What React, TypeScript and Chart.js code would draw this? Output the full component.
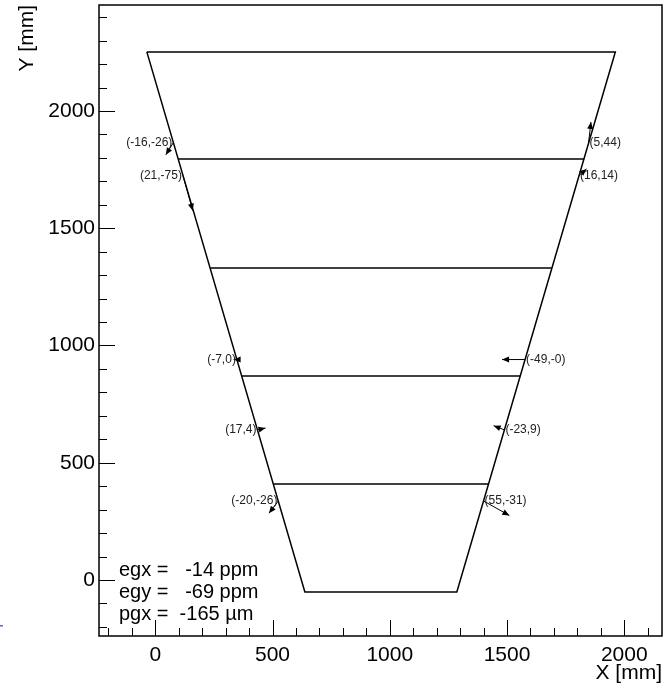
import { useEffect, useRef } from "react";
import { Chart, registerables } from "chart.js";

Chart.register(...registerables);

const FONT = "'Liberation Sans', Arial, Helvetica, sans-serif";

// Plane outline (mm), closed polygon
const outlineX = [-36, 1962, 1286, 638, -36];
const outlineY = [2252, 2252, -51, -51, 2252];

// Horizontal chords across the plane (mm)
const chordY = [1795, 1330, 870, 409];
const chordXLeft = [98, 234, 369, 503];
const chordXRight = [1828, 1691, 1556, 1421];

// Measured displacements at points on the plane edges
const arrowX = [77, 118, 348, 436, 525, 1848, 1807, 1577, 1489, 1400];
const arrowY = [1865, 1725, 940, 640, 337, 1865, 1725, 940, 640, 337];
const arrowDX = [-16, 21, -7, 17, -20, 5, 16, -49, -23, 55];
const arrowDY = [-26, -75, 0, 4, -26, 44, 14, -0, 9, -31];
const arrowSide = ["L", "L", "L", "L", "L", "R", "R", "R", "R", "R"];
const ARROW_SCALE = 2; // mm of drawing per unit of displacement

// Axis ranges and labelled ticks
const xRange = [-240, 2161];
const yRange = [-239, 2452];
const xTicks = [0, 500, 1000, 1500, 2000];
const yTicks = [0, 500, 1000, 1500, 2000];

// Fit results
const fitNames = ["egx", "egy", "pgx"];
const fitValues = [-14, -69, -165];
const fitUnits = ["ppm", "ppm", "\u00b5m"];

const fmt = (v: number) => (v === 0 && 1 / v < 0 ? "-0" : String(v));

const overlay = {
  id: "overlay",
  afterDraw(chart: any) {
    const ctx: CanvasRenderingContext2D = chart.ctx;
    const { left, right, top, bottom } = chart.chartArea;
    const xs = chart.scales.x;
    const ys = chart.scales.y;
    ctx.save();

    // inward ticks: major every 500, minor every 100
    ctx.strokeStyle = "#000";
    ctx.lineWidth = 1;
    ctx.beginPath();
    for (let v = Math.ceil(xs.min / 100) * 100; v <= xs.max; v += 100) {
      const p = Math.round(xs.getPixelForValue(v)) + 0.5;
      const len = v % 500 === 0 ? 16 : 8;
      ctx.moveTo(p, bottom);
      ctx.lineTo(p, bottom - len);
    }
    for (let v = Math.ceil(ys.min / 100) * 100; v <= ys.max; v += 100) {
      const p = Math.round(ys.getPixelForValue(v)) + 0.5;
      const len = v % 500 === 0 ? 16 : 8;
      ctx.moveTo(left, p);
      ctx.lineTo(left + len, p);
    }
    ctx.stroke();

    // frame
    ctx.lineWidth = 1.5;
    ctx.strokeRect(left, top, right - left, bottom - top);

    // displacement arrows with labels
    ctx.font = `12px ${FONT}`;
    ctx.textBaseline = "middle";
    for (let i = 0; i < arrowX.length; i++) {
      const bx = xs.getPixelForValue(arrowX[i]);
      const by = ys.getPixelForValue(arrowY[i]);
      const tx = xs.getPixelForValue(arrowX[i] + arrowDX[i] * ARROW_SCALE);
      const ty = ys.getPixelForValue(arrowY[i] + arrowDY[i] * ARROW_SCALE);
      const dx = tx - bx;
      const dy = ty - by;
      const l = Math.hypot(dx, dy) || 1;
      const ux = dx / l;
      const uy = dy / l;
      ctx.strokeStyle = "#000";
      ctx.lineWidth = 1;
      ctx.beginPath();
      ctx.moveTo(bx, by);
      ctx.lineTo(tx, ty);
      ctx.stroke();
      const hl = 7;
      const hw = 3;
      ctx.fillStyle = "#000";
      ctx.beginPath();
      ctx.moveTo(tx, ty);
      ctx.lineTo(tx - ux * hl - uy * hw, ty - uy * hl + ux * hw);
      ctx.lineTo(tx - ux * hl + uy * hw, ty - uy * hl - ux * hw);
      ctx.closePath();
      ctx.fill();

      const label = `(${fmt(arrowDX[i])},${fmt(arrowDY[i])})`;
      ctx.fillStyle = "#222";
      if (arrowSide[i] === "L") {
        ctx.textAlign = "right";
        ctx.fillText(label, bx - 1, by);
      } else {
        ctx.textAlign = "left";
        ctx.fillText(label, bx + 1, by);
      }
    }

    // fit summary
    ctx.font = `20px ${FONT}`;
    ctx.fillStyle = "#000";
    ctx.textAlign = "left";
    ctx.textBaseline = "alphabetic";
    for (let i = 0; i < fitNames.length; i++) {
      const s = `${fitNames[i]} = ${String(fitValues[i]).padStart(5, " ")} ${fitUnits[i]}`;
      ctx.fillText(s, left + 20, bottom - 60 + i * 22);
    }

    // small mark at the left edge
    ctx.fillStyle = "#4a6fd8";
    ctx.fillRect(0, 625, 3, 1.5);

    ctx.restore();
  },
};

export default function App() {
  const ref = useRef<HTMLCanvasElement | null>(null);

  useEffect(() => {
    document.body.style.margin = "0";
    const canvas = ref.current;
    if (!canvas) return;

    const lineStyle = {
      showLine: true,
      pointRadius: 0,
      borderColor: "#000",
      borderWidth: 1.5,
      fill: false,
      tension: 0,
    };

    const datasets: any[] = [
      {
        ...lineStyle,
        data: outlineX.map((x, i) => ({ x, y: outlineY[i] })),
      },
      ...chordY.map((y, i) => ({
        ...lineStyle,
        data: [
          { x: chordXLeft[i], y },
          { x: chordXRight[i], y },
        ],
      })),
    ];

    const tickFont = { family: FONT, size: 21 };

    const chart = new Chart(canvas, {
      type: "scatter",
      data: { datasets },
      options: {
        animation: false,
        responsive: false,
        devicePixelRatio: 1,
        events: [],
        layout: { padding: { top: 5, right: 8, left: 0, bottom: 0 } },
        plugins: {
          legend: { display: false },
          tooltip: { enabled: false },
        },
        scales: {
          x: {
            type: "linear",
            min: xRange[0],
            max: xRange[1],
            afterBuildTicks: (s: any) => {
              s.ticks = xTicks.map((value) => ({ value }));
            },
            afterFit: (s: any) => {
              s.height = 53;
              s.paddingLeft = 0;
              s.paddingRight = 0;
            },
            grid: { display: false, drawTicks: false },
            border: { display: false },
            ticks: {
              font: tickFont,
              color: "#000",
              padding: 7,
              maxRotation: 0,
              autoSkip: false,
              callback: (v: any) => String(v),
            },
            title: {
              display: true,
              text: "X [mm]",
              align: "end",
              color: "#000",
              font: tickFont,
              padding: { top: 0, bottom: 3 },
            },
          },
          y: {
            type: "linear",
            min: yRange[0],
            max: yRange[1],
            afterBuildTicks: (s: any) => {
              s.ticks = yTicks.map((value) => ({ value }));
            },
            afterFit: (s: any) => {
              s.width = 99;
              s.paddingTop = 0;
              s.paddingBottom = 0;
            },
            grid: { display: false, drawTicks: false },
            border: { display: false },
            ticks: {
              font: tickFont,
              color: "#000",
              padding: 4,
              autoSkip: false,
              callback: (v: any) => String(v),
            },
            title: {
              display: true,
              text: "Y [mm]",
              align: "end",
              color: "#000",
              font: tickFont,
              padding: { top: 15, bottom: 0 },
            },
          },
        },
      } as any,
      plugins: [overlay],
    });

    return () => chart.destroy();
  }, []);

  return (
    <div style={{ width: 670, height: 689, background: "#fff" }}>
      <canvas ref={ref} width={670} height={689} style={{ display: "block" }} />
    </div>
  );
}
